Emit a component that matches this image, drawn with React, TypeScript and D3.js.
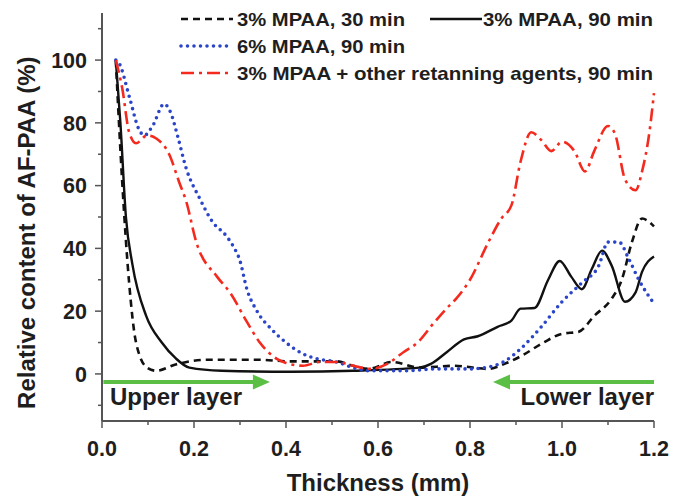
import React, { useEffect, useRef } from "react";
import * as d3 from "d3";

// thickness (mm), relative content (%)
const dashed30: [number, number][] = [
  [0.03, 100], [0.044, 61], [0.059, 29], [0.074, 10], [0.098, 2], [0.118, 1], [0.16, 3],
  [0.23, 4.5], [0.34, 4.5], [0.41, 4], [0.51, 4], [0.546, 2.6], [0.58, 1.6], [0.63, 3.8],
  [0.69, 2], [0.765, 2.6], [0.84, 1.6], [0.875, 3.2], [0.91, 5.6], [0.96, 10], [1.0, 12.8],
  [1.036, 13.4], [1.07, 18.5], [1.108, 24], [1.13, 30], [1.152, 42], [1.174, 49.5], [1.2, 47],
];
const solid90: [number, number][] = [
  [0.03, 100], [0.04, 80], [0.052, 50], [0.066, 35], [0.096, 18.5], [0.13, 10], [0.16, 5],
  [0.19, 2], [0.26, 1], [0.41, 0.7], [0.546, 1], [0.69, 2], [0.715, 3.2], [0.75, 7],
  [0.787, 11], [0.817, 12], [0.86, 15], [0.89, 17], [0.91, 20.8], [0.94, 21], [0.97, 30],
  [0.995, 36], [1.02, 31], [1.043, 27], [1.065, 33.5], [1.087, 39.3], [1.108, 34.5],
  [1.137, 23], [1.16, 26], [1.174, 32.5], [1.2, 37.4],
];
const dotted90: [number, number][] = [
  [0.03, 100], [0.037, 99], [0.06, 88], [0.08, 78], [0.092, 76], [0.11, 79], [0.135, 86],
  [0.15, 83], [0.164, 76], [0.183, 65.5], [0.212, 56], [0.24, 48.5], [0.27, 44], [0.284, 41],
  [0.3, 36], [0.315, 27], [0.337, 20], [0.37, 14], [0.4, 10], [0.437, 6.4], [0.468, 4.8],
  [0.51, 3.8], [0.555, 1.6], [0.584, 1], [0.656, 1], [0.73, 1.6], [0.8, 1.6], [0.84, 2.2],
  [0.875, 4], [0.91, 8], [0.955, 15], [1.0, 23], [1.043, 29], [1.08, 34.5], [1.1, 42],
  [1.124, 42], [1.145, 36.7], [1.167, 30], [1.2, 22.4],
];
const dashDot90: [number, number][] = [
  [0.03, 100], [0.044, 91], [0.059, 77], [0.074, 73.5], [0.098, 76], [0.118, 75], [0.146, 70],
  [0.168, 61], [0.183, 55], [0.205, 42], [0.25, 31], [0.278, 26], [0.315, 16.6], [0.343, 10],
  [0.38, 4.8], [0.4, 3.5], [0.437, 2.6], [0.474, 3.8], [0.51, 3.8], [0.546, 2.6], [0.584, 1.6],
  [0.62, 3.2], [0.656, 7], [0.686, 10], [0.72, 16], [0.75, 21], [0.77, 24], [0.8, 30],
  [0.84, 42], [0.868, 49.5], [0.89, 53.7], [0.91, 67.7], [0.933, 77], [0.955, 74.5],
  [0.977, 71], [1.0, 74], [1.027, 71], [1.05, 64.5], [1.07, 71], [1.1, 79], [1.115, 76.6],
  [1.137, 62], [1.16, 58.5], [1.174, 64.5], [1.19, 77], [1.2, 89.5],
];

const xTicks = [0, 0.2, 0.4, 0.6, 0.8, 1.0, 1.2];
const yTicks = [0, 20, 40, 60, 80, 100];
const legendLabels = [
  "3% MPAA, 30 min",
  "3% MPAA, 90 min",
  "6% MPAA, 90 min",
  "3% MPAA + other retanning agents, 90 min",
];
// arrows: [from, to] in mm, both at the same height
const arrowSpans: [number, number][] = [[0.003, 0.365], [1.2, 0.85]];

const App = () => {
  const svgRef = useRef<SVGSVGElement>(null);

  useEffect(() => {
    const W = 673, H = 497;
    const margin = { top: 13, right: 19, bottom: 76, left: 102 };
    const svg = d3.select(svgRef.current);
    svg.selectAll("*").remove();

    const width = W - margin.left - margin.right;
    const height = H - margin.top - margin.bottom;
    const font = "'Liberation Sans', Arial, sans-serif";
    const ink = "#1e1e1e";

    const x = d3.scaleLinear().domain([0, 1.2]).range([0, width]);
    const y = d3.scaleLinear().domain([-15, 115]).range([height, 0]);

    const g = svg.append("g").attr("transform", `translate(${margin.left},${margin.top})`);

    // axes
    const axisColor = "#555";
    const yMinor = d3.range(-10, 115, 10).filter((v) => v % 20 !== 0);
    const xMinor = d3.range(0.1, 1.2, 0.2);

    g.append("line").attr("x1", 0).attr("x2", 0).attr("y1", 0).attr("y2", height)
      .attr("stroke", axisColor).attr("stroke-width", 2);
    g.append("line").attr("x1", 0).attr("x2", width).attr("y1", height).attr("y2", height)
      .attr("stroke", axisColor).attr("stroke-width", 2);

    g.selectAll(".ymaj").data(yTicks).join("line")
      .attr("x1", -7).attr("x2", 0).attr("y1", (d) => y(d)).attr("y2", (d) => y(d))
      .attr("stroke", axisColor).attr("stroke-width", 1.5);
    g.selectAll(".ymin").data(yMinor).join("line")
      .attr("x1", -4).attr("x2", 0).attr("y1", (d) => y(d)).attr("y2", (d) => y(d))
      .attr("stroke", axisColor).attr("stroke-width", 1.5);
    g.selectAll(".xmaj").data(xTicks).join("line")
      .attr("x1", (d) => x(d)).attr("x2", (d) => x(d)).attr("y1", height).attr("y2", height + 7)
      .attr("stroke", axisColor).attr("stroke-width", 1.5);
    g.selectAll(".xmin").data(xMinor).join("line")
      .attr("x1", (d) => x(d)).attr("x2", (d) => x(d)).attr("y1", height).attr("y2", height + 4)
      .attr("stroke", axisColor).attr("stroke-width", 1.5);

    g.selectAll(".ylab").data(yTicks).join("text")
      .attr("x", -15).attr("y", (d) => y(d)).attr("dy", "0.36em")
      .attr("text-anchor", "end").attr("font-family", font).attr("font-weight", "bold")
      .attr("font-size", 21.5).attr("fill", ink).text((d) => d);
    g.selectAll(".xlab").data(xTicks).join("text")
      .attr("x", (d) => x(d)).attr("y", height + 35)
      .attr("text-anchor", "middle").attr("font-family", font).attr("font-weight", "bold")
      .attr("font-size", 21.5).attr("fill", ink).text((d) => d.toFixed(1));

    svg.append("text")
      .attr("transform", `translate(35,${margin.top + y(45)}) rotate(-90)`)
      .attr("text-anchor", "middle").attr("font-family", font).attr("font-weight", "bold")
      .attr("font-size", 24).attr("fill", ink).text("Relative content of AF-PAA (%)");
    svg.append("text")
      .attr("x", margin.left + width / 2).attr("y", 491)
      .attr("text-anchor", "middle").attr("font-family", font).attr("font-weight", "bold")
      .attr("font-size", 24).attr("fill", ink).text("Thickness (mm)");

    // curves
    const line = d3.line<[number, number]>()
      .x((d) => x(d[0])).y((d) => y(d[1])).curve(d3.curveMonotoneX);

    const series = [
      { data: dashed30, color: "#111", dash: "7 5", w: 2.6, cap: "butt" },
      { data: solid90, color: "#111", dash: null, w: 2.4, cap: "butt" },
      { data: dotted90, color: "#2b45c8", dash: "0 6.5", w: 3.6, cap: "round" },
      { data: dashDot90, color: "#f42a1e", dash: "13 5 3 5", w: 2.6, cap: "butt" },
    ];

    // green arrows
    const arrowY = y(-2.6);
    const green = "#5cbf45";
    arrowSpans.forEach(([a, b]) => {
      const dir = b > a ? 1 : -1;
      const tip = x(b);
      g.append("line").attr("x1", x(a)).attr("x2", tip - dir * 12).attr("y1", arrowY).attr("y2", arrowY)
        .attr("stroke", green).attr("stroke-width", 4);
      g.append("path")
        .attr("d", `M${tip},${arrowY} L${tip - dir * 17},${arrowY - 7.5} L${tip - dir * 17},${arrowY + 7.5} Z`)
        .attr("fill", green);
    });

    g.append("text").attr("x", 8).attr("y", y(-9.9))
      .attr("font-family", font).attr("font-weight", "bold").attr("font-size", 24)
      .attr("fill", ink).text("Upper layer");
    g.append("text").attr("x", width).attr("y", y(-9.9))
      .attr("text-anchor", "end").attr("font-family", font).attr("font-weight", "bold")
      .attr("font-size", 24).attr("fill", ink).text("Lower layer");

    series.forEach((s) => {
      g.append("path").datum(s.data).attr("d", line)
        .attr("fill", "none").attr("stroke", s.color).attr("stroke-width", s.w)
        .attr("stroke-dasharray", s.dash).attr("stroke-linecap", s.cap);
    });

    // legend
    const legendPos = [
      { lx: 181, ly: 19, tx: 237, tw: 168 },
      { lx: 430, ly: 19, tx: 483, tw: 170 },
      { lx: 181, ly: 46, tx: 237, tw: 168 },
      { lx: 181, ly: 73, tx: 237, tw: 416 },
    ];
    series.forEach((s, i) => {
      const p = legendPos[i];
      svg.append("line").attr("x1", p.lx).attr("x2", p.lx + 52).attr("y1", p.ly).attr("y2", p.ly)
        .attr("stroke", s.color).attr("stroke-width", s.w)
        .attr("stroke-dasharray", s.dash).attr("stroke-linecap", s.cap);
      svg.append("text").attr("x", p.tx).attr("y", p.ly).attr("dy", "0.36em")
        .attr("font-family", font).attr("font-weight", "bold").attr("font-size", 19)
        .attr("textLength", p.tw).attr("lengthAdjust", "spacingAndGlyphs")
        .attr("fill", ink).text(legendLabels[i]);
    });
  }, []);

  return (
    <svg ref={svgRef} width={673} height={497}
      style={{ position: "absolute", left: 0, top: 0, background: "#fff" }}></svg>
  );
};

export default App;
